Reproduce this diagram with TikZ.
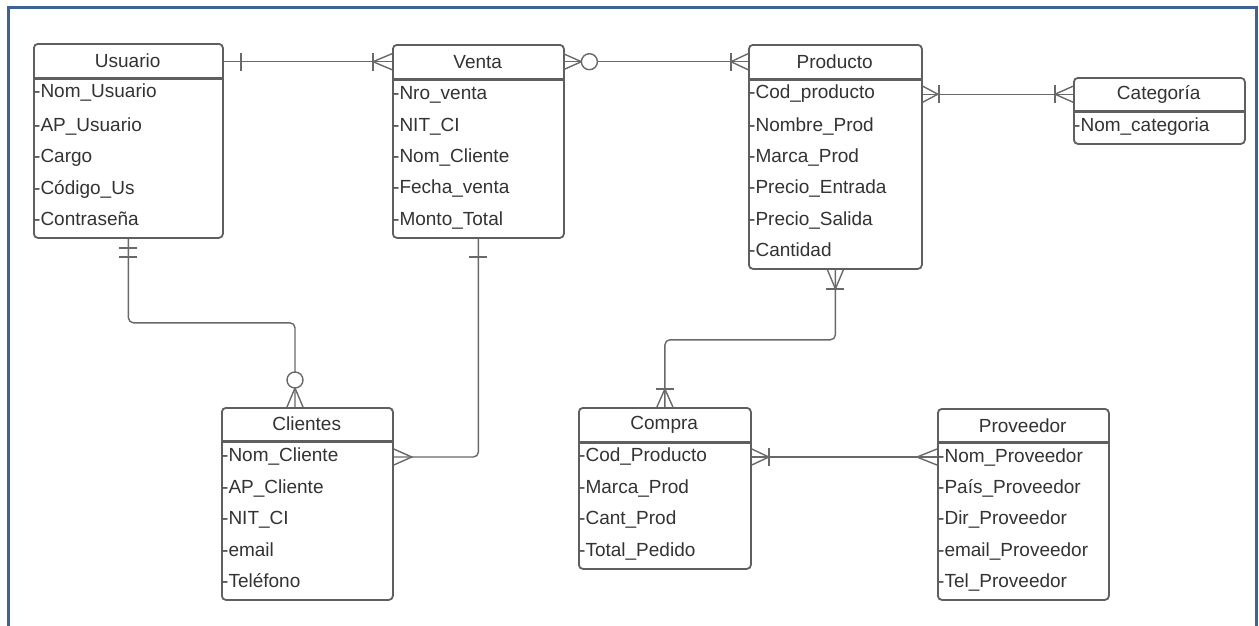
\documentclass[tikz,border=0pt]{standalone}
\usepackage{fontspec}
\setmainfont{Liberation Sans}
\usetikzlibrary{calc}
\definecolor{frm}{RGB}{61,99,148}
\definecolor{boxc}{RGB}{95,95,95}
\definecolor{lnc}{RGB}{105,105,105}
\definecolor{txt}{RGB}{51,51,51}
\begin{document}
\begin{tikzpicture}[x=1pt,y=-1pt,
  box/.style={draw=boxc, line width=1.8pt, rounded corners=4pt, fill=white, anchor=north west, inner sep=0pt},
  hdr/.style={anchor=north west, minimum height=35pt, inner sep=0pt, text=txt, font=\fontsize{19pt}{21pt}\selectfont},
  sepl/.style={draw=boxc, line width=2.6pt},
  row/.style={anchor=base west, inner sep=0pt, text=txt, font=\fontsize{19pt}{21pt}\selectfont},
  ln/.style={draw=lnc, line width=1.4pt},
  frame/.style={draw=frm, line width=3pt},
  pics/cf/.style={code={\draw[ln] (0,-8) -- (#1,0) -- (0,8);}},
  pics/bar/.style={code={\draw[ln] (#1,-9) -- (#1,9);}},
  pics/zc/.style={code={\draw[ln,fill=white] (#1,0) circle[radius=8pt];}},
]
\useasboundingbox (0,0) rectangle (1259,625);
\draw[frame] (8,627) -- (8,7) -- (1256.5,7) -- (1256.5,627);

% ---------- Usuario
\node[box, minimum width=189pt, minimum height=194pt] (usu) at (33,43) {};
\node[hdr, minimum width=189pt] (usuH) at (33,43) {Usuario};
\draw[sepl] (usuH.south west) -- (usuH.south east);
\node[row] (usu1) at ($(usu.north west)+(1,54)$) {-Nom\_Usuario};
\node[row] (usu2) at ($(usu.north west)+(1,88)$) {-AP\_Usuario};
\node[row] (usu3) at ($(usu.north west)+(1,119)$) {-Cargo};
\node[row] (usu4) at ($(usu.north west)+(1,151)$) {-Código\_Us};
\node[row] (usu5) at ($(usu.north west)+(1,182)$) {-Contraseña};

% ---------- Venta
\node[box, minimum width=171pt, minimum height=193pt] (ven) at (392,44) {};
\node[hdr, minimum width=171pt] (venH) at (392,44) {Venta};
\draw[sepl] (venH.south west) -- (venH.south east);
\node[row] (ven1) at ($(ven.north west)+(1,55)$) {-Nro\_venta};
\node[row] (ven2) at ($(ven.north west)+(1,87)$) {-NIT\_CI};
\node[row] (ven3) at ($(ven.north west)+(1,118)$) {-Nom\_Cliente};
\node[row] (ven4) at ($(ven.north west)+(1,149)$) {-Fecha\_venta};
\node[row] (ven5) at ($(ven.north west)+(1,181)$) {-Monto\_Total};

% ---------- Producto
\node[box, minimum width=173pt, minimum height=224pt] (pro) at (748,44) {};
\node[hdr, minimum width=173pt] (proH) at (748,44) {Producto};
\draw[sepl] (proH.south west) -- (proH.south east);
\node[row] (pro1) at ($(pro.north west)+(1,54)$) {-Cod\_producto};
\node[row] (pro2) at ($(pro.north west)+(1,87)$) {-Nombre\_Prod};
\node[row] (pro3) at ($(pro.north west)+(1,118)$) {-Marca\_Prod};
\node[row] (pro4) at ($(pro.north west)+(1,149)$) {-Precio\_Entrada};
\node[row] (pro5) at ($(pro.north west)+(1,181)$) {-Precio\_Salida};
\node[row] (pro6) at ($(pro.north west)+(1,212)$) {-Cantidad};

% ---------- Categoria
\node[box, minimum width=171pt, minimum height=66pt] (cat) at (1073,77) {};
\node[hdr, minimum width=171pt, minimum height=34pt] (catH) at (1073,77) {Categoría};
\draw[sepl] (catH.south west) -- (catH.south east);
\node[row] (cat1) at ($(cat.north west)+(1,54)$) {-Nom\_categoria};

% ---------- Clientes
\node[box, minimum width=171pt, minimum height=192pt] (cli) at (221,407) {};
\node[hdr, minimum width=171pt, minimum height=34pt] (cliH) at (221,407) {Clientes};
\draw[sepl] (cliH.south west) -- (cliH.south east);
\node[row] (cli1) at ($(cli.north west)+(1,54)$) {-Nom\_Cliente};
\node[row] (cli2) at ($(cli.north west)+(1,86)$) {-AP\_Cliente};
\node[row] (cli3) at ($(cli.north west)+(1,117)$) {-NIT\_CI};
\node[row] (cli4) at ($(cli.north west)+(1,149)$) {-email};
\node[row] (cli5) at ($(cli.north west)+(1,180)$) {-Teléfono};

% ---------- Compra
\node[box, minimum width=172pt, minimum height=161pt] (com) at (578,407) {};
\node[hdr, minimum width=172pt] (comH) at (578,407) {Compra};
\draw[sepl] (comH.south west) -- (comH.south east);
\node[row] (com1) at ($(com.north west)+(1,54)$) {-Cod\_Producto};
\node[row] (com2) at ($(com.north west)+(1,86)$) {-Marca\_Prod};
\node[row] (com3) at ($(com.north west)+(1,117)$) {-Cant\_Prod};
\node[row] (com4) at ($(com.north west)+(1,149)$) {-Total\_Pedido};

% ---------- Proveedor
\node[box, minimum width=171pt, minimum height=191pt] (prv) at (937,408) {};
\node[hdr, minimum width=171pt, minimum height=34pt] (prvH) at (937,408) {Proveedor};
\draw[sepl] (prvH.south west) -- (prvH.south east);
\node[row] (prv1) at ($(prv.north west)+(1,54)$) {-Nom\_Proveedor};
\node[row] (prv2) at ($(prv.north west)+(1,85)$) {-País\_Proveedor};
\node[row] (prv3) at ($(prv.north west)+(1,116)$) {-Dir\_Proveedor};
\node[row] (prv4) at ($(prv.north west)+(1,148)$) {-email\_Proveedor};
\node[row] (prv5) at ($(prv.north west)+(1,179)$) {-Tel\_Proveedor};

% ---------- connector points
\coordinate (uvA) at (venH.west -| usu.east);
\coordinate (vpB) at (venH.east -| pro.west);
\coordinate (pcA) at (catH.west -| pro.east);
\coordinate (cpK) at ($(com.north east)+(0,50)$);
\coordinate (cpB) at (cpK -| prv.west);
\coordinate (cliT) at ($(cli.north west)+(74,0)$);
\coordinate (vcK) at ($(cli.north east)+(0,50)$);

% ---------- connectors
\draw[ln] (uvA) -- (venH.west);
\draw[ln] (venH.east) -- (vpB);
\draw[ln] (pcA) -- (catH.west);
\draw[ln, rounded corners=5pt] (pro.south) -- ++(0,70) -| (com.north);
\draw[ln] (cpK) -- (cpB);
\draw[ln, rounded corners=5pt] (usu.south) -- ++(0,84) -| (cliT);
\draw[ln, rounded corners=5pt] (ven.south) |- (vcK);

% ---------- ends
\path (uvA) pic {bar=17};
\path (venH.west) pic[rotate=180] {cf=19};
\path (venH.west) pic[rotate=180] {bar=19};

\path (venH.east) pic {cf=18};
\path (venH.east) pic {zc=26};
\path (vpB) pic[rotate=180] {cf=17};
\path (vpB) pic[rotate=180] {bar=17};

\path (pcA) pic {cf=15};
\path (pcA) pic {bar=16};
\path (catH.west) pic[rotate=180] {cf=18};
\path (catH.west) pic[rotate=180] {bar=18};

\path (pro.south) pic[rotate=-90] {cf=19};
\path (pro.south) pic[rotate=-90] {bar=19};
\path (com.north) pic[rotate=90] {cf=18};
\path (com.north) pic[rotate=90] {bar=18};

\path (cpK) pic {cf=17};
\path (cpK) pic {bar=17};
\path (cpB) pic[rotate=180] {cf=20};

\path (usu.south) pic[rotate=-90] {bar=9};
\path (usu.south) pic[rotate=-90] {bar=18};
\path (cliT) pic[rotate=90] {cf=19};
\path (cliT) pic[rotate=90] {zc=27};

\path (ven.south) pic[rotate=-90] {bar=18};
\path (vcK) pic {cf=18};
\end{tikzpicture}
\end{document}
